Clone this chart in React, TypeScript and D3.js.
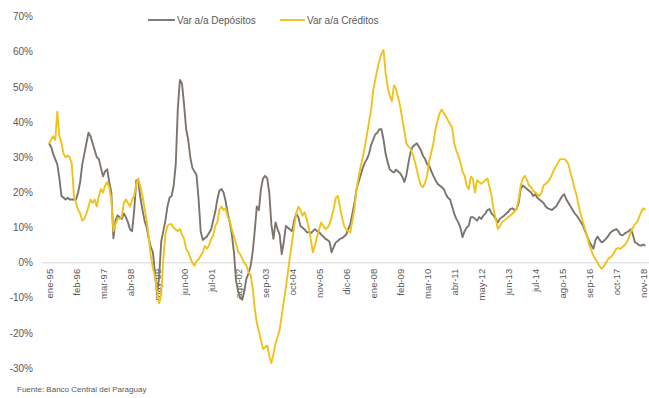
import React from "react";
import * as d3 from "d3";

const tickLabels = ["ene-95","feb-96","mar-97","abr-98","may-99","jun-00","jul-01","ago-02","sep-03","oct-04","nov-05","dic-06","ene-08","feb-09","mar-10","abr-11","may-12","jun-13","jul-14","ago-15","sep-16","oct-17","nov-18"];
const yTicks = [70, 60, 50, 40, 30, 20, 10, 0, -10, -20, -30];

// Var a/a Depósitos (%), monthly Jan-1995 .. Dec-2018
const depositos = [
  34, 33, 31, 29.5, 28, 24, 19, 18.5, 18, 18.5, 18, 18,
  18, 18, 20, 23, 28, 31, 34, 37, 36, 34, 32, 30,
  29.5, 27, 24.6, 26, 26.6, 23, 20, 7, 12, 13.5, 13, 12.5,
  14, 13, 11.5, 9.5, 9, 15, 23.5, 23, 18.5, 15, 12, 10,
  7, 4.5, 3, -3, -9, -4, 6, 9, 12, 16, 18.5, 19,
  22, 28, 44, 52, 51, 45, 38, 35, 30, 27, 26, 25,
  18, 9, 6.5, 7, 7.5, 8.5, 9.5, 12, 14.5, 18, 20.5, 21,
  20, 17.5, 14, 11.5, 8, 3, -5, -8, -10, -10.5, -8, -4.5,
  -3, -1, 3, 9, 16, 15, 21, 24, 24.7, 24, 20, 11,
  6.8, 11.5, 9.6, 8, 2.5, 6, 10.5, 10, 9.5, 9, 12, 14,
  13, 10.5, 10, 9.5, 8.7, 8.7, 8.5, 9, 9.6, 9, 8.7, 8,
  7.5, 6.8, 6.5, 6, 3, 4.5, 5.8, 6.2, 6.8, 7, 7.5, 8,
  9.6, 11, 14, 17, 21, 23, 25, 27, 28.5, 29.5, 31, 33.5,
  35, 36.5, 37, 38, 38, 35, 31, 28.5, 26.6, 26, 25.7, 26.5,
  26, 25.5, 24.5, 23, 25, 28.5, 31.5, 33, 33.5, 34, 33, 32,
  30.4, 29.5, 28, 27.6, 26, 24.7, 23.5, 22.5, 22, 21.5, 21, 19.5,
  18.5, 18, 16, 14, 12.5, 11.5, 10, 7.3, 9, 10, 10.6, 13,
  13, 12.5, 12, 13, 12.5, 13.4, 14, 15, 15.3, 14, 13.4, 12.5,
  11.5, 12.5, 13, 13.4, 14, 14.5, 15.3, 15.5, 15, 15.3, 17, 21,
  22, 21.5, 21, 20.5, 20, 19, 19.5, 18.5, 18, 17.5, 17, 16,
  15.5, 15.3, 15, 15.5, 16, 17, 18, 19, 19.5, 18, 17, 16,
  15, 14, 13.4, 12.5, 11.5, 10.6, 9, 7.5, 6, 5, 4, 6.5,
  7.5, 6.5, 5.8, 6.2, 6.8, 7.5, 8.5, 9, 9.3, 9.6, 9, 8,
  7.8, 8.3, 8.7, 9, 9.6, 8, 5.8, 5.5, 5, 4.9, 5.2, 4.9,
];

// Var a/a Créditos (%), monthly Jan-1995 .. Dec-2018
const creditos = [
  34, 35, 36, 35, 43, 36, 34, 31, 30, 30.5, 30, 28,
  19, 17, 15, 14, 12, 12.5, 14, 16, 18, 17, 18, 16,
  19, 21, 20, 22, 23, 21.5, 18, 9, 11, 12.5, 12.5, 13,
  17, 18, 17, 16, 18, 19, 22.5, 24, 21.5, 19, 15.5, 12,
  7.5, 2, -1.5, -4, -8, -11.5, -9, 1, 8, 10.5, 11, 11,
  10, 9.5, 9, 9.6, 8, 6.8, 4, 3, 1.5, 0, -0.8, 0.5,
  1, 2, 3, 4.8, 4, 5, 6.8, 7.7, 10.5, 11.5, 15, 16,
  15, 15.5, 13, 12, 9.5, 7.5, 5.5, 3.2, 2.5, 1.2, 0, -0.8,
  -2.6, -3.5, -7, -13, -17, -19.5, -22, -24.5, -24, -23.5, -26.5, -28.5,
  -26, -23, -21, -19, -15, -11, -7, -2.5, 2, 6, 10.5, 14,
  16, 15, 13.4, 14.4, 12.5, 10, 6.5, 3, 5, 7.5, 9.5, 11.5,
  10.5, 9.6, 10, 11, 13, 15.3, 18.5, 19, 16, 13, 10.5, 9.6,
  9, 8.7, 12, 15.5, 21, 24.5, 27.5, 30, 33, 36.5, 40, 43.5,
  49, 52, 55, 57.5, 59.5, 60.5, 54, 50, 47.5, 46, 50.5, 49.5,
  47, 44.5, 41, 37.5, 34, 33, 32.5, 31, 29, 26.5, 24, 22,
  21.5, 22.8, 25, 29, 31.5, 34, 38, 40.5, 42.5, 43.6, 42.5, 41.7,
  40.5, 39.5, 38.5, 34, 32, 30.4, 28.5, 26, 24.7, 22, 21, 24.5,
  23.8, 20, 23.5, 23, 22.5, 23, 23.5, 24, 21.5, 19, 15, 12.5,
  9.6, 10.5, 11.5, 12, 12.5, 13, 13.4, 14, 14.5, 15.3, 18, 22,
  24, 24.7, 23.5, 22, 21.5, 20.5, 20, 19.5, 19, 20, 22, 22.5,
  23, 23.8, 25, 26.5, 27.5, 28.5, 29.5, 29.5, 29.5, 29, 28, 25.5,
  23.5, 21, 19, 16, 13.5, 11.5, 9.5, 7.5, 5, 3.5, 2, 1,
  0, -1, -1.7, -1, 0, 1, 1.5, 2, 3, 4, 4.2, 4,
  4.5, 5, 5.8, 7, 9, 10, 11, 11.5, 13, 14.4, 15.5, 15,
];

const seriesNames = ["Var a/a Depósitos", "Var a/a Créditos"];
const seriesColors = ["#7b756d", "#f0c21c"];
const sourceText = "Fuente: Banco Central del Paraguay";

export default function App() {
  const W = 649, H = 398;
  const x = d3.scaleLinear().domain([0, 286]).range([49, 643.3]);
  const y = d3.scaleLinear().domain([-30, 70]).range([368.3, 16.7]);
  const line = d3.line<number>().x((_, i) => x(i)).y((d) => y(d));
  const font = "'Liberation Sans', Arial, sans-serif";
  const textColor = "#595959";
  const data = [depositos, creditos];
  return (
    <svg width={W} height={H} style={{ position: "absolute", left: 0, top: 0, background: "#fff" }} fontFamily={font}>
      {yTicks.map((t) => (
        <text key={t} x={33} y={y(t)} dy="0.35em" textAnchor="end" fontSize={10} fill={textColor}>
          {t + "%"}
        </text>
      ))}
      <line x1={42} x2={649} y1={y(0)} y2={y(0)} stroke="#d9d9d9" strokeWidth={1} />
      {tickLabels.map((lab, i) => {
        const tx = x(i * 13);
        return (
          <text key={lab} transform={`translate(${tx + 3.5},${y(0) + 6}) rotate(-90)`} textAnchor="end" fontSize={9.5} fill={textColor}>
            {lab}
          </text>
        );
      })}
      {data.map((s, k) => (
        <path key={k} d={line(s) || ""} fill="none" stroke={seriesColors[k]} strokeWidth={1.9} strokeLinejoin="round" />
      ))}
      <g fontSize={10} fill={textColor}>
        <line x1={148} x2={175} y1={20} y2={20} stroke={seriesColors[0]} strokeWidth={1.9} />
        <text x={177} y={20} dy="0.35em">{seriesNames[0]}</text>
        <line x1={280} x2={305} y1={20} y2={20} stroke={seriesColors[1]} strokeWidth={1.9} />
        <text x={307} y={20} dy="0.35em">{seriesNames[1]}</text>
      </g>
      <text x={17} y={392} fontSize={8} fill={textColor}>{sourceText}</text>
    </svg>
  );
}
